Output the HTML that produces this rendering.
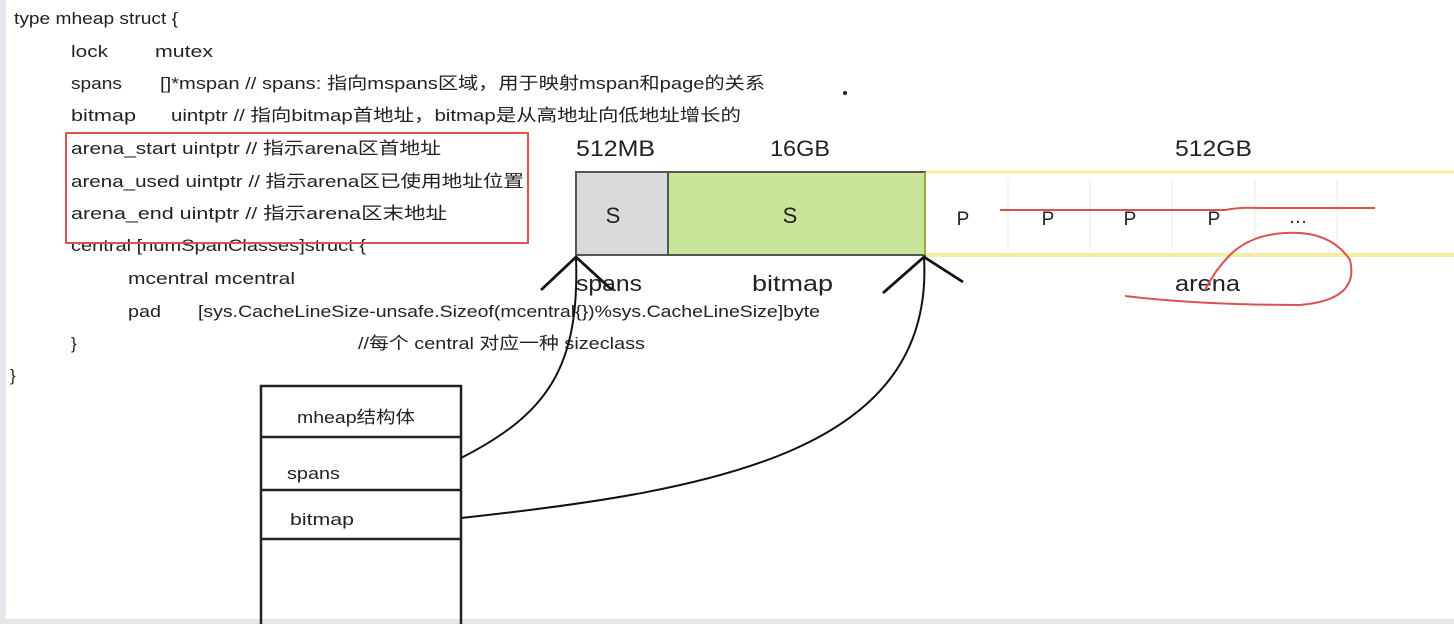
<!DOCTYPE html>
<html><head><meta charset="utf-8"><style>
html,body{margin:0;padding:0;background:#fff}
svg{display:block}
text{font-family:"Liberation Sans","Noto Sans CJK SC",sans-serif;fill:#222}
</style></head><body>
<svg width="1454" height="624" viewBox="0 0 1454 624" xmlns="http://www.w3.org/2000/svg">
<rect x="0" y="0" width="1454" height="624" fill="#fff"/>
<rect x="0" y="0" width="6" height="624" fill="#e4e8ee"/>
<rect x="0" y="619" width="1454" height="5" fill="#e6e6e6"/>
<g font-size="17">
<text x="14" y="24" textLength="164" lengthAdjust="spacingAndGlyphs">type mheap struct {</text>
<text x="71" y="57" textLength="37" lengthAdjust="spacingAndGlyphs">lock</text><text x="155" y="57" textLength="58" lengthAdjust="spacingAndGlyphs">mutex</text>
<text x="71" y="89" textLength="51" lengthAdjust="spacingAndGlyphs">spans</text><text x="160" y="89" textLength="605" lengthAdjust="spacingAndGlyphs">[]*mspan // spans: 指向mspans区域，用于映射mspan和page的关系</text>
<text x="71" y="121" textLength="65" lengthAdjust="spacingAndGlyphs">bitmap</text><text x="171" y="121" textLength="570" lengthAdjust="spacingAndGlyphs">uintptr  // 指向bitmap首地址，bitmap是从高地址向低地址增长的</text>
<text x="71" y="154" textLength="370" lengthAdjust="spacingAndGlyphs">arena_start uintptr  // 指示arena区首地址</text>
<text x="71" y="187" textLength="453" lengthAdjust="spacingAndGlyphs">arena_used  uintptr  // 指示arena区已使用地址位置</text>
<text x="71" y="219" textLength="376" lengthAdjust="spacingAndGlyphs">arena_end   uintptr  // 指示arena区末地址</text>
<text x="71" y="251" textLength="295" lengthAdjust="spacingAndGlyphs">central [numSpanClasses]struct {</text>
<text x="128" y="284" textLength="167" lengthAdjust="spacingAndGlyphs">mcentral mcentral</text>
<text x="128" y="317" textLength="33" lengthAdjust="spacingAndGlyphs">pad</text><text x="198" y="317" textLength="622" lengthAdjust="spacingAndGlyphs">[sys.CacheLineSize-unsafe.Sizeof(mcentral{})%sys.CacheLineSize]byte</text>
<text x="71" y="349">}</text><text x="358" y="349" textLength="287" lengthAdjust="spacingAndGlyphs">//每个 central 对应一种 sizeclass</text>
<text x="10" y="381">}</text>
</g>
<rect x="66" y="133" width="462" height="110" fill="none" stroke="#d9534f" stroke-width="2"/>
<circle cx="845" cy="93" r="2" fill="#222"/>
<line x1="925" y1="172" x2="1454" y2="172" stroke="#f4eea0" stroke-width="3"/>
<line x1="925" y1="255" x2="1454" y2="255" stroke="#f4eea0" stroke-width="4"/>
<g stroke="#e8e8e8" stroke-width="1">
<line x1="1008" y1="180" x2="1008" y2="250"/><line x1="1090" y1="180" x2="1090" y2="250"/>
<line x1="1172" y1="180" x2="1172" y2="250"/><line x1="1255" y1="180" x2="1255" y2="250"/>
<line x1="1337" y1="180" x2="1337" y2="250"/>
</g>
<rect x="576" y="172" width="92" height="83" fill="#d9d9d9" stroke="#555" stroke-width="2"/>
<rect x="668" y="172" width="257" height="83" fill="#c8e496" stroke="#555" stroke-width="2"/>
<line x1="925" y1="172" x2="925" y2="255" stroke="#9aa840" stroke-width="2"/>
<g font-size="22">
<text x="613" y="223" text-anchor="middle">S</text>
<text x="790" y="223" text-anchor="middle" fill="#2a3a10">S</text>
<text x="576" y="156" textLength="79" lengthAdjust="spacingAndGlyphs">512MB</text>
<text x="770" y="156" textLength="60" lengthAdjust="spacingAndGlyphs">16GB</text>
<text x="1175" y="156" textLength="77" lengthAdjust="spacingAndGlyphs">512GB</text>
<text x="576" y="291" textLength="66" lengthAdjust="spacingAndGlyphs">spans</text>
<text x="752" y="291" textLength="81" lengthAdjust="spacingAndGlyphs">bitmap</text>
<text x="1175" y="291" textLength="65" lengthAdjust="spacingAndGlyphs">arena</text>
</g>
<g font-size="19">
<text x="963" y="225" text-anchor="middle" fill="#c33">P</text>
<text x="1048" y="225" text-anchor="middle">P</text>
<text x="1130" y="225" text-anchor="middle">P</text>
<text x="1214" y="225" text-anchor="middle">P</text>
<text x="1298" y="223" text-anchor="middle">…</text>
</g>
<g fill="none" stroke="#d9534f" stroke-width="2">
<path d="M1000 210 L1225 210 Q1240 207 1260 208 L1375 208"/>
<path d="M1125 296 Q1200 305 1300 305 Q1360 300 1350 260 Q1330 230 1285 233 Q1250 235 1230 255 Q1215 270 1205 290"/>
</g>
<g stroke="#222" stroke-width="2.5" fill="none">
<path d="M261 624 L261 386 L461 386 L461 624"/>
<line x1="261" y1="437" x2="461" y2="437"/>
<line x1="261" y1="490" x2="461" y2="490"/>
<line x1="261" y1="539" x2="461" y2="539"/>
</g>
<g font-size="17">
<text x="297" y="423" textLength="118" lengthAdjust="spacingAndGlyphs">mheap结构体</text>
<text x="287" y="479" textLength="53" lengthAdjust="spacingAndGlyphs">spans</text>
<text x="290" y="525" textLength="64" lengthAdjust="spacingAndGlyphs">bitmap</text>
</g>
<g stroke="#111" stroke-width="2" fill="none">
<path d="M461 458 C545 415 580 370 576 257"/>
<path d="M461 518 C720 490 935 450 924 257"/>
</g>
<g stroke="#111" stroke-width="2.8" fill="none">
<path d="M541 290 L576 257 L612 290"/>
<path d="M883 293 L924 257 L963 282"/>
</g>
</svg>
</body></html>
